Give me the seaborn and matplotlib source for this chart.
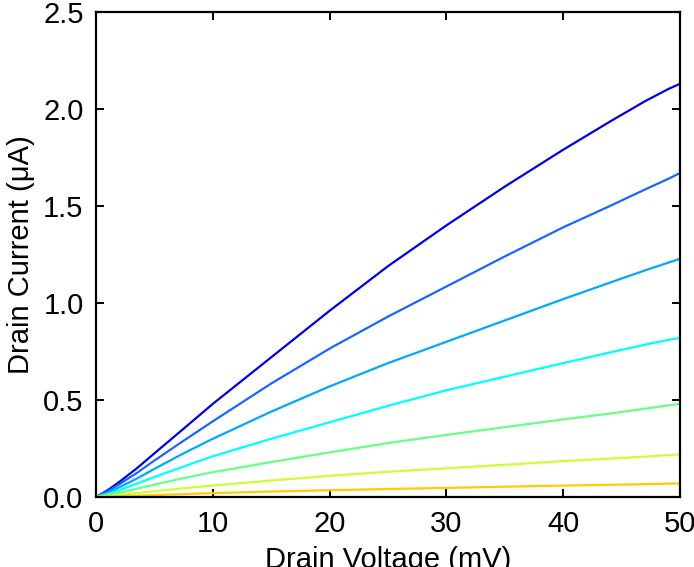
import numpy as np
import pandas as pd
import matplotlib
matplotlib.use("Agg")
import matplotlib.pyplot as plt
import seaborn as sns

# Drain voltage (mV)
voltage = [0, 1, 2, 3.5, 5, 7.5, 10, 15, 20, 25, 30, 35, 40, 44, 47, 49, 50]

# Drain current (uA) curves, top to bottom
curve1 = [0, 0.035, 0.078, 0.148, 0.225, 0.352, 0.48, 0.72, 0.96, 1.19, 1.40, 1.60, 1.79, 1.935, 2.04, 2.103, 2.13]
curve2 = [0, 0.03, 0.066, 0.124, 0.188, 0.29, 0.39, 0.585, 0.765, 0.93, 1.085, 1.24, 1.39, 1.50, 1.585, 1.64, 1.67]
curve3 = [0, 0.022, 0.05, 0.095, 0.145, 0.225, 0.30, 0.44, 0.57, 0.69, 0.80, 0.91, 1.02, 1.105, 1.168, 1.208, 1.228]
curve4 = [0, 0.016, 0.036, 0.069, 0.103, 0.157, 0.21, 0.30, 0.385, 0.47, 0.55, 0.62, 0.69, 0.745, 0.785, 0.81, 0.82]
curve5 = [0, 0.01, 0.022, 0.043, 0.064, 0.097, 0.128, 0.18, 0.23, 0.278, 0.32, 0.36, 0.40, 0.43, 0.455, 0.472, 0.48]
curve6 = [0, 0.005, 0.011, 0.02, 0.03, 0.045, 0.059, 0.085, 0.109, 0.13, 0.148, 0.166, 0.185, 0.198, 0.208, 0.216, 0.22]
curve7 = [0, 0.002, 0.004, 0.007, 0.01, 0.015, 0.02, 0.028, 0.035, 0.041, 0.047, 0.053, 0.059, 0.063, 0.066, 0.069, 0.07]

curves = [curve1, curve2, curve3, curve4, curve5, curve6, curve7]
names = ["c1", "c2", "c3", "c4", "c5", "c6", "c7"]
colors = ["#0000E0", "#1A66FF", "#00A8FF", "#00FFFF", "#66FF88", "#CCFF33", "#FFCC00"]

xticks = [0, 10, 20, 30, 40, 50]
yticks = [0.0, 0.5, 1.0, 1.5, 2.0, 2.5]

rows = []
for n, c in zip(names, curves):
    for v, i in zip(voltage, c):
        rows.append({"V": v, "I": i, "curve": n})
df = pd.DataFrame(rows)

sns.set_style("white")
plt.rcParams["font.family"] = ["Liberation Sans", "DejaVu Sans"]
plt.rcParams["text.color"] = "black"
plt.rcParams["axes.labelcolor"] = "black"

fig = plt.figure(figsize=(6.94, 5.67), dpi=100)
ax = fig.add_axes([96 / 694, 70 / 567, (680 - 96) / 694, (497 - 12) / 567])

sns.lineplot(data=df, x="V", y="I", hue="curve", hue_order=names,
             palette=dict(zip(names, colors)), linewidth=1.6, legend=False, ax=ax)

ax.set_xlim(0, 50)
ax.set_ylim(0, 2.5)
ax.set_xticks(xticks)
ax.set_xticklabels([str(t) for t in xticks])
ax.set_yticks(yticks)
ax.set_yticklabels([f"{t:.1f}" for t in yticks])
ax.tick_params(direction="in", length=6, width=1.4, labelsize=21, top=True, right=True,
               bottom=True, left=True, colors="black", labelcolor="black")
ax.tick_params(axis="x", pad=9)
ax.tick_params(axis="y", pad=9)
for s in ax.spines.values():
    s.set_visible(True)
    s.set_color("black")
    s.set_linewidth(1.6)

ax.set_xlabel("Drain Voltage (mV)", fontsize=21, labelpad=6, color="black")
ax.set_ylabel("Drain Current (\u03bcA)", fontsize=21, labelpad=6, color="black")

fig.savefig("out.png", dpi=100)
